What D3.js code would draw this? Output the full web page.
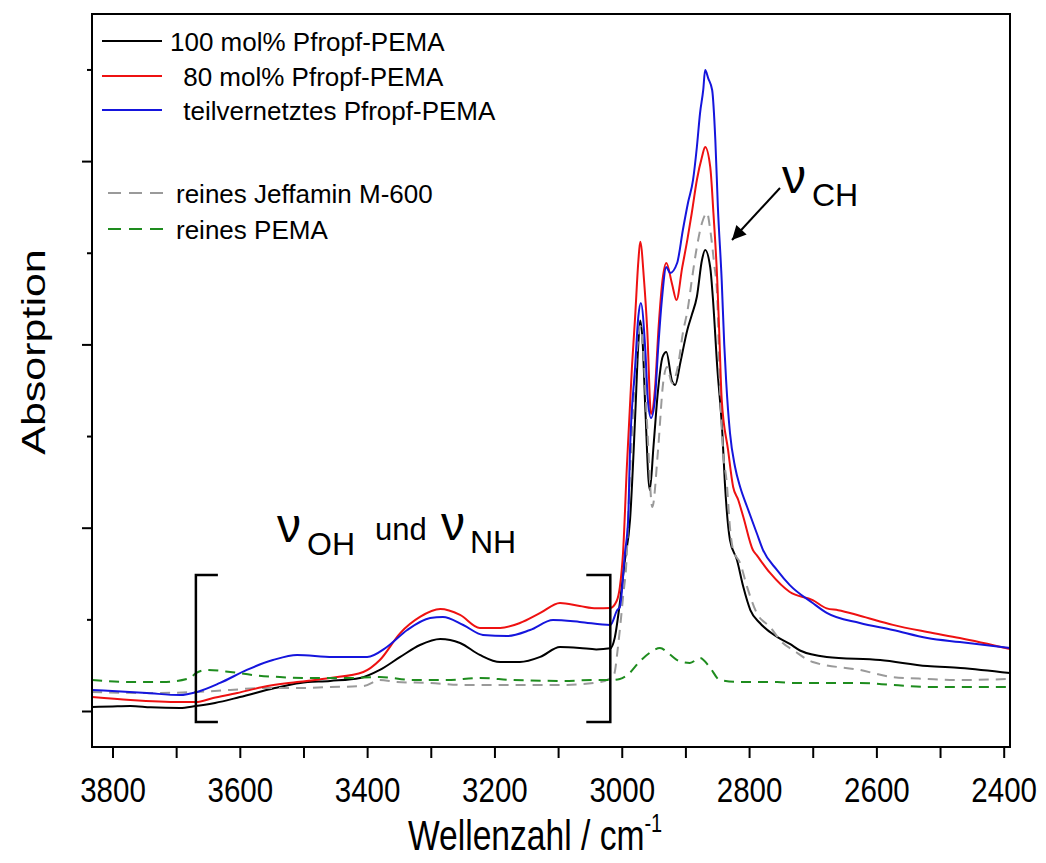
<!DOCTYPE html>
<html><head><meta charset="utf-8">
<script src="https://cdn.jsdelivr.net/npm/d3@7"></script>
<style>
html,body{margin:0;padding:0;background:#fff;}
text{font-family:"Liberation Sans",Arial,Helvetica,sans-serif;fill:#000;}
</style></head>
<body>
<svg id="chart" width="1046" height="863"></svg>
<script>
// ---------- data (wavenumber cm^-1, absorption a.u.) ----------
const black100 = [[3832,0.022],[3800,0.025],[3772,0.027],[3740,0.02],[3694,0.016],[3669,0.027],[3639,0.044],[3600,0.076],[3545,0.125],[3505,0.153],[3458,0.164],[3411,0.180],[3380,0.224],[3348,0.295],[3317,0.360],[3285,0.393],[3254,0.371],[3223,0.306],[3191,0.267],[3160,0.267],[3128,0.295],[3097,0.349],[3066,0.344],[3040,0.336],[3018,0.342],[3011,0.40],[3003,0.589],[2995,0.824],[2987,1.042],[2979,1.60],[2974,2.0],[2971,2.13],[2967,2.0],[2963,1.65],[2956,1.206],[2950,1.45],[2943,1.75],[2936,1.93],[2930,1.959],[2921,1.80],[2916,1.779],[2908,1.90],[2897,2.079],[2890,2.16],[2882,2.26],[2874,2.46],[2869,2.515],[2861,2.42],[2857,2.26],[2850,1.877],[2842,1.517],[2838,1.244],[2830,0.933],[2819,0.824],[2809,0.676],[2798,0.551],[2783,0.48],[2756,0.404],[2736,0.366],[2720,0.33],[2678,0.295],[2594,0.278],[2520,0.245],[2468,0.235],[2390,0.207]];
const red80 = [[3832,0.076],[3772,0.060],[3694,0.049],[3669,0.049],[3642,0.071],[3604,0.098],[3564,0.131],[3510,0.158],[3458,0.180],[3406,0.213],[3380,0.278],[3348,0.425],[3317,0.513],[3285,0.556],[3254,0.524],[3223,0.453],[3191,0.453],[3160,0.480],[3128,0.535],[3097,0.589],[3066,0.573],[3040,0.56],[3018,0.562],[3008,0.60],[3003,0.676],[2998,0.862],[2992,1.331],[2984,1.877],[2979,2.15],[2974,2.45],[2971,2.56],[2965,2.35],[2960,2.08],[2954,1.62],[2948,1.75],[2942,2.1],[2936,2.35],[2930,2.444],[2921,2.33],[2914,2.242],[2905,2.42],[2897,2.57],[2890,2.717],[2882,2.897],[2874,3.022],[2869,3.077],[2861,2.968],[2856,2.717],[2850,2.352],[2847,2.079],[2843,1.70],[2833,1.424],[2825,1.222],[2817,1.151],[2809,1.058],[2794,0.878],[2788,0.85],[2767,0.753],[2736,0.649],[2700,0.605],[2678,0.56],[2660,0.55],[2626,0.52],[2574,0.47],[2520,0.431],[2469,0.398],[2390,0.338]];
const blueX = [[3832,0.115],[3746,0.098],[3694,0.087],[3667,0.104],[3631,0.153],[3589,0.224],[3548,0.278],[3510,0.306],[3454,0.295],[3400,0.295],[3369,0.349],[3337,0.442],[3301,0.507],[3281,0.513],[3249,0.469],[3218,0.415],[3180,0.409],[3144,0.442],[3108,0.496],[3066,0.486],[3018,0.469],[3007,0.551],[3003,0.567],[2995,0.862],[2990,1.042],[2987,1.424],[2979,1.877],[2974,2.15],[2970,2.226],[2963,1.969],[2959,1.697],[2954,1.598],[2948,1.697],[2943,1.969],[2937,2.242],[2930,2.422],[2924,2.39],[2913,2.444],[2904,2.624],[2896,2.771],[2888,2.897],[2882,3.077],[2877,3.262],[2872,3.388],[2869,3.497],[2864,3.45],[2858,3.388],[2853,3.115],[2849,2.75],[2843,2.35],[2839,2.0],[2836,1.8],[2830,1.517],[2822,1.331],[2814,1.222],[2803,1.113],[2788,0.971],[2778,0.878],[2756,0.769],[2736,0.687],[2700,0.589],[2678,0.535],[2626,0.48],[2574,0.442],[2520,0.398],[2469,0.376],[2390,0.344]];
const jeffamin = [[3832,0.104],[3746,0.098],[3667,0.104],[3615,0.115],[3564,0.125],[3510,0.125],[3458,0.131],[3406,0.136],[3380,0.169],[3353,0.158],[3301,0.153],[3249,0.142],[3171,0.142],[3092,0.142],[3034,0.158],[3018,0.18],[3012,0.20],[3006,0.349],[2998,0.622],[2992,0.862],[2990,1.042],[2984,1.517],[2976,1.969],[2971,2.10],[2966,1.95],[2960,1.55],[2952,1.113],[2943,1.424],[2935,1.789],[2929,1.877],[2921,1.789],[2912,1.877],[2904,2.062],[2896,2.2],[2890,2.35],[2882,2.531],[2874,2.662],[2866,2.717],[2861,2.624],[2855,2.444],[2850,2.259],[2846,1.789],[2841,1.424],[2835,1.244],[2830,1.0],[2825,0.878],[2814,0.807],[2803,0.676],[2788,0.535],[2767,0.458],[2747,0.371],[2731,0.333],[2700,0.267],[2626,0.224],[2574,0.185],[2520,0.175],[2469,0.169],[2390,0.175]];
const pema = [[3832,0.169],[3772,0.158],[3721,0.158],[3678,0.18],[3669,0.207],[3652,0.224],[3615,0.213],[3579,0.196],[3537,0.185],[3485,0.18],[3432,0.18],[3380,0.185],[3328,0.169],[3275,0.169],[3223,0.18],[3171,0.169],[3092,0.164],[3045,0.169],[3018,0.169],[3003,0.175],[2990,0.20],[2971,0.273],[2955,0.32],[2940,0.344],[2925,0.31],[2913,0.278],[2893,0.262],[2877,0.289],[2861,0.235],[2846,0.169],[2814,0.158],[2756,0.158],[2731,0.153],[2626,0.153],[2574,0.142],[2520,0.131],[2442,0.131],[2390,0.131]];

const seriesNames = ["100 mol% Pfropf-PEMA"," 80 mol% Pfropf-PEMA"," teilvernetztes Pfropf-PEMA","reines Jeffamin M-600","reines PEMA"];
const xTickValues = [3800,3700,3600,3500,3400,3300,3200,3100,3000,2900,2800,2700,2600,2500,2400];
const xTickLabels = ["3800","","3600","","3400","","3200","","3000","","2800","","2600","","2400"];
const yMajorTicks = [0,1,2,3];
const yMinorTicks = [0.5,1.5,2.5,3.5];
const bracketRange = [3669, 3018];

// ---------- layout ----------
const svg = d3.select("#chart");
const L = 92, R = 1010, T = 14, B = 747;
const x = d3.scaleLinear().domain([3832.2, 2390.1]).range([L, R]);
const y = d3.scaleLinear().domain([-0.1964, 3.8025]).range([B, T]);

const styles = [
  {data: black100, color:"#000000", dash:null},
  {data: jeffamin, color:"#9a9a9a", dash:"10,7"},
  {data: red80, color:"#ee1111", dash:null},
  {data: blueX, color:"#1515dd", dash:null},
  {data: pema, color:"#1e8c1e", dash:"10,7"}
];

const line = d3.line().x(d=>x(d[0])).y(d=>y(d[1])).curve(d3.curveMonotoneX);
const plot = svg.append("g");
styles.forEach(s=>{
  plot.append("path").datum(s.data).attr("d", line)
    .attr("fill","none").attr("stroke", s.color).attr("stroke-width",2)
    .attr("stroke-dasharray", s.dash);
});

// frame
svg.append("rect").attr("x",L).attr("y",T).attr("width",R-L).attr("height",B-T)
  .attr("fill","none").attr("stroke","#000").attr("stroke-width",2);

// x axis
const xAxis = svg.append("g").attr("transform",`translate(0,${B})`)
  .call(d3.axisBottom(x).tickValues(xTickValues).tickSize(11).tickPadding(0)
    .tickFormat((d,i)=>xTickLabels[i]));
xAxis.select(".domain").remove();
xAxis.selectAll("line").attr("stroke-width",2);
xAxis.selectAll("text").attr("y",55).attr("dy",null)
  .style("font-size","36px").attr("transform","scale(0.82,1)")
  .style("font-family",'"Liberation Sans",Arial,sans-serif').attr("fill","#000");

// y axis
const yMaj = svg.append("g").attr("transform",`translate(${L},0)`)
  .call(d3.axisLeft(y).tickValues(yMajorTicks).tickSize(10).tickFormat(""));
const yMin = svg.append("g").attr("transform",`translate(${L},0)`)
  .call(d3.axisLeft(y).tickValues(yMinorTicks).tickSize(5).tickFormat(""));
[yMaj,yMin].forEach(g=>{g.select(".domain").remove(); g.selectAll("line").attr("stroke-width",2);});

// axis titles
const xt = svg.append("text").attr("transform","translate(408,850) scale(0.8,1)")
  .style("font-size","42px");
xt.append("tspan").text("Wellenzahl / cm");
xt.append("tspan").attr("dy",-18).style("font-size","25px").text("-1");

svg.append("text").attr("transform","translate(45,352) scale(0.78,1) rotate(-90)")
  .attr("text-anchor","middle").style("font-size","43px").text("Absorption");

// legend
const legY = [41,76,110,193,229];
const legX0 = [102,102,102,108,108], legX1 = [162,162,162,163,163];
const legOrder = [0,2,3,1,4];
legOrder.forEach((si,i)=>{
  const s = styles[si];
  svg.append("line").attr("x1",legX0[i]).attr("x2",legX1[i]).attr("y1",legY[i]).attr("y2",legY[i])
    .attr("stroke",s.color).attr("stroke-width",2).attr("stroke-dasharray", s.dash ? "13,8" : null);
  svg.append("text").attr("x", i===0 ? 170 : 176).attr("y", legY[i]+10)
    .attr("xml:space","preserve").style("white-space","pre")
    .style("font-size","26px").text(seriesNames[i]);
});

// brackets
const by0 = y(-0.06), by1 = y(0.742);
const bl = x(bracketRange[0]), br = x(bracketRange[1]);
svg.append("path").attr("d",`M${bl+22},${by1}H${bl}V${by0}H${bl+22}`)
  .attr("fill","none").attr("stroke","#000").attr("stroke-width",2.5);
svg.append("path").attr("d",`M${br-24},${by1}H${br}V${by0}H${br-24}`)
  .attr("fill","none").attr("stroke","#000").attr("stroke-width",2.5);

// annotation nu_OH und nu_NH
function nu(xp, yp, sub, subDx){
  svg.append("text").attr("x",xp).attr("y",yp).style("font-size","48px").text("\u03BD");
  svg.append("text").attr("x",xp+subDx).attr("y",yp+13).style("font-size","32px").text(sub);
}
nu(277,542,"OH",30);
svg.append("text").attr("x",375).attr("y",540).style("font-size","31px").text("und");
nu(441,540,"NH",29);
nu(782,193,"CH",30);

// arrow
svg.append("defs").append("marker").attr("id","ah").attr("viewBox","0 0 10 10")
  .attr("refX",10).attr("refY",5).attr("markerWidth",18).attr("markerHeight",14)
  .attr("markerUnits","userSpaceOnUse").attr("orient","auto")
  .append("path").attr("d","M0,0L10,5L0,10z").attr("fill","#000");
svg.append("line").attr("x1",780).attr("y1",188).attr("x2",732).attr("y2",240)
  .attr("stroke","#000").attr("stroke-width",2).attr("marker-end","url(#ah)");
</script>
</body></html>
